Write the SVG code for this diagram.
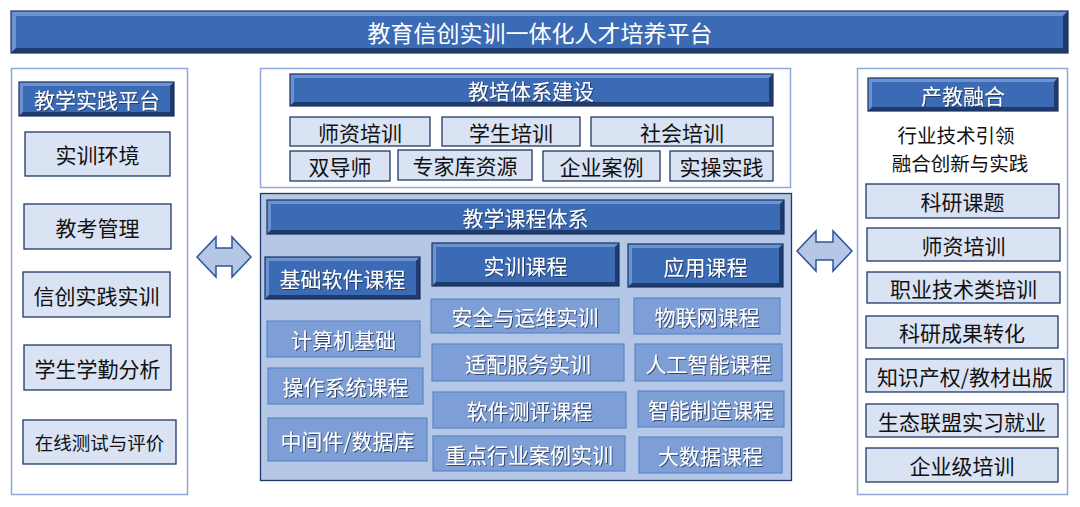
<svg xmlns="http://www.w3.org/2000/svg" width="1080" height="507" viewBox="0 0 1080 507">
<defs>
<filter id="sh" x="-10%" y="-20%" width="120%" height="140%">
<feDropShadow dx="1" dy="1" stdDeviation="0.6" flood-color="#1a2a48" flood-opacity="0.75"/>
</filter>
<style>
text{font-family:"Noto Sans CJK SC","Noto Sans",sans-serif;text-anchor:middle;dominant-baseline:central;}
.bo{fill:none;stroke:#1a315c;stroke-width:1.2;}
.tl{fill:#6d92d2;}
.br{fill:#1f3b6e;}
.bi{fill:#3b6bb4;}
.ht{fill:#fff;font-size:21px;filter:url(#sh);}
.panel{fill:#fff;stroke:#8eaadb;stroke-width:1.5;}
.lb{fill:#dae3f3;stroke:#203864;stroke-width:1.3;}
.lt{fill:#111;font-size:21px;}
.mb{fill:#7e9fd6;stroke:#5b86cc;stroke-width:1.2;}
.mt{fill:#fff;font-size:21px;filter:url(#sh);}
.arr{fill:#b4c7e7;stroke:#2f5597;stroke-width:1.5;stroke-linejoin:miter;}
</style>
</defs>
<rect width="1080" height="507" fill="#fff"/>

<g id="title">
<rect class="bi" x="11" y="11" width="1057" height="42"/>
<path class="tl" d="M11,11 H1068 L1063,16 H16 V48 L11,53 Z"/>
<path class="br" d="M1068,11 V53 H11 L16,48 H1063 V16 Z"/>
<rect class="bo" x="11" y="11" width="1057" height="42"/>
<text x="540" y="32" fill="#fff" style="font-size:23px">教育信创实训一体化人才培养平台</text>
</g>

<g id="left-panel">
<rect class="panel" x="11.5" y="68.5" width="176" height="426"/>
<g id="jxsjpt">
<rect class="bi" x="19" y="82" width="155" height="34"/>
<path class="tl" d="M19,82 H174 L170,86 H23 V112 L19,116 Z"/>
<path class="br" d="M174,82 V116 H19 L23,112 H170 V86 Z"/>
<rect class="bo" x="19" y="82" width="155" height="34"/>
<text class="ht" x="97" y="99">教学实践平台</text>
</g>
<g id="sxhj"><rect class="lb" x="25" y="132" width="145" height="44"/><text class="lt" x="97.5" y="154">实训环境</text></g>
<g id="jkgl"><rect class="lb" x="24" y="204" width="147" height="45"/><text class="lt" x="97.5" y="226.5">教考管理</text></g>
<g id="xcsjsx"><rect class="lb" x="23" y="272" width="147" height="45"/><text class="lt" x="96.5" y="294.5">信创实践实训</text></g>
<g id="xsxqfx"><rect class="lb" x="24" y="345" width="147" height="45"/><text class="lt" x="97.5" y="367.5">学生学勤分析</text></g>
<g id="zxcsypj"><rect class="lb" x="23" y="420" width="153" height="44"/><text class="lt" x="99.5" y="442" style="font-size:18.5px">在线测试与评价</text></g>
</g>

<g id="jptxjs">
<rect class="panel" x="260.5" y="68.5" width="530" height="119"/>
<g id="jptxjs-head">
<rect class="bi" x="290" y="74" width="483" height="32"/>
<path class="tl" d="M290,74 H773 L769,78 H294 V102 L290,106 Z"/>
<path class="br" d="M773,74 V106 H290 L294,102 H769 V78 Z"/>
<rect class="bo" x="290" y="74" width="483" height="32"/>
<text class="ht" x="531" y="90">教培体系建设</text>
</g>
<g id="szpx1"><rect class="lb" x="290" y="117" width="140" height="29"/><text class="lt" x="360" y="131.5">师资培训</text></g>
<g id="xspx"><rect class="lb" x="442" y="117" width="138" height="29"/><text class="lt" x="511" y="131.5">学生培训</text></g>
<g id="shpx"><rect class="lb" x="591" y="117" width="182" height="29"/><text class="lt" x="682" y="131.5">社会培训</text></g>
<g id="sds"><rect class="lb" x="290" y="151" width="100" height="30"/><text class="lt" x="340" y="166">双导师</text></g>
<g id="zjkzy"><rect class="lb" x="398" y="150" width="134" height="30"/><text class="lt" x="465" y="165">专家库资源</text></g>
<g id="qyal"><rect class="lb" x="543" y="151" width="117" height="30"/><text class="lt" x="601.5" y="166">企业案例</text></g>
<g id="sczj"><rect class="lb" x="670" y="151" width="103" height="30"/><text class="lt" x="721.5" y="166">实操实践</text></g>
</g>

<g id="jxkctx">
<rect x="260.5" y="193.5" width="531" height="287" fill="#b4c7e7" stroke="#1f3864" stroke-width="1.3"/>
<g id="jxkctx-head">
<rect class="bi" x="267" y="200" width="517" height="34"/>
<path class="tl" d="M267,200 H784 L780,204 H271 V230 L267,234 Z"/>
<path class="br" d="M784,200 V234 H267 L271,230 H780 V204 Z"/>
<rect class="bo" x="267" y="200" width="517" height="34"/>
<text class="ht" x="525.5" y="217">教学课程体系</text>
</g>
<g id="jcrjkc">
<rect class="bi" x="265" y="257" width="155" height="42"/>
<path class="tl" d="M265,257 H420 L416,261 H269 V295 L265,299 Z"/>
<path class="br" d="M420,257 V299 H265 L269,295 H416 V261 Z"/>
<rect class="bo" x="265" y="257" width="155" height="42"/>
<text class="ht" x="342.5" y="278">基础软件课程</text>
</g>
<g id="sxkc">
<rect class="bi" x="432" y="243" width="187" height="43"/>
<path class="tl" d="M432,243 H619 L615,247 H436 V282 L432,286 Z"/>
<path class="br" d="M619,243 V286 H432 L436,282 H615 V247 Z"/>
<rect class="bo" x="432" y="243" width="187" height="43"/>
<text class="ht" x="525.5" y="264.5">实训课程</text>
</g>
<g id="yykc">
<rect class="bi" x="628" y="244" width="155" height="43"/>
<path class="tl" d="M628,244 H783 L779,248 H632 V283 L628,287 Z"/>
<path class="br" d="M783,244 V287 H628 L632,283 H779 V248 Z"/>
<rect class="bo" x="628" y="244" width="155" height="43"/>
<text class="ht" x="705.5" y="265.5">应用课程</text>
</g>
<g id="jsjjc"><rect class="mb" x="267" y="321" width="153" height="36"/><text class="mt" x="343.5" y="339">计算机基础</text></g>
<g id="czxtkc"><rect class="mb" x="268" y="368" width="155" height="36"/><text class="mt" x="345.5" y="386">操作系统课程</text></g>
<g id="zjjsjk"><rect class="mb" x="268" y="418" width="159" height="43"/><text class="mt" x="347.5" y="439.5">中间件/数据库</text></g>
<g id="aqywsx"><rect class="mb" x="431" y="299" width="188" height="34"/><text class="mt" x="525" y="316">安全与运维实训</text></g>
<g id="spfwsx"><rect class="mb" x="432" y="344" width="192" height="37"/><text class="mt" x="528" y="362.5">适配服务实训</text></g>
<g id="rjcpkc"><rect class="mb" x="433" y="392" width="193" height="36"/><text class="mt" x="529.5" y="410">软件测评课程</text></g>
<g id="zdhyalsx"><rect class="mb" x="433" y="436" width="192" height="35"/><text class="mt" x="529" y="453.5">重点行业案例实训</text></g>
<g id="wlwkc"><rect class="mb" x="634" y="298" width="146" height="36"/><text class="mt" x="707" y="316">物联网课程</text></g>
<g id="rgznkc"><rect class="mb" x="635" y="344" width="147" height="37"/><text class="mt" x="708.5" y="362.5">人工智能课程</text></g>
<g id="znzzkc"><rect class="mb" x="638" y="391" width="146" height="36"/><text class="mt" x="711" y="409">智能制造课程</text></g>
<g id="dsjkc"><rect class="mb" x="639" y="437" width="143" height="36"/><text class="mt" x="710.5" y="455">大数据课程</text></g>
</g>

<g id="right-panel">
<rect class="panel" x="857.5" y="68.5" width="210" height="426"/>
<g id="cjrh">
<rect class="bi" x="868" y="78" width="190" height="33"/>
<path class="tl" d="M868,78 H1058 L1054,82 H872 V107 L868,111 Z"/>
<path class="br" d="M1058,78 V111 H868 L872,107 H1054 V82 Z"/>
<rect class="bo" x="868" y="78" width="190" height="33"/>
<text class="ht" x="963" y="94.5">产教融合</text>
</g>
<text class="lt" style="font-size:19.5px"><tspan x="956" y="134">行业技术引领</tspan><tspan x="960" y="161.5">融合创新与实践</tspan></text>
<g id="kykt"><rect class="lb" x="866" y="184" width="193" height="34"/><text class="lt" x="962.5" y="201">科研课题</text></g>
<g id="szpx2"><rect class="lb" x="867" y="228" width="193" height="33"/><text class="lt" x="963.5" y="244.5">师资培训</text></g>
<g id="zyjslpx"><rect class="lb" x="867" y="272" width="193" height="31"/><text class="lt" x="963.5" y="287.5">职业技术类培训</text></g>
<g id="kycgzh"><rect class="lb" x="866" y="316" width="192" height="32"/><text class="lt" x="962" y="332">科研成果转化</text></g>
<g id="zscq"><rect class="lb" x="866" y="359" width="198" height="33"/><text class="lt" x="965" y="375.5">知识产权/教材出版</text></g>
<g id="stlm"><rect class="lb" x="866" y="404" width="192" height="33"/><text class="lt" x="962" y="420.5">生态联盟实习就业</text></g>
<g id="qyjpx"><rect class="lb" x="866" y="448" width="192" height="34"/><text class="lt" x="962" y="465">企业级培训</text></g>
</g>

<g id="connectors">
<polygon class="arr" points="197,257 216,237 216,248 232,248 232,237 251,257 232,277 232,266 216,266 216,277"/>
<polygon class="arr" points="797,251 816,231 816,242 833,242 833,231 852,251 833,271 833,260 816,260 816,271"/>
</g>
</svg>
